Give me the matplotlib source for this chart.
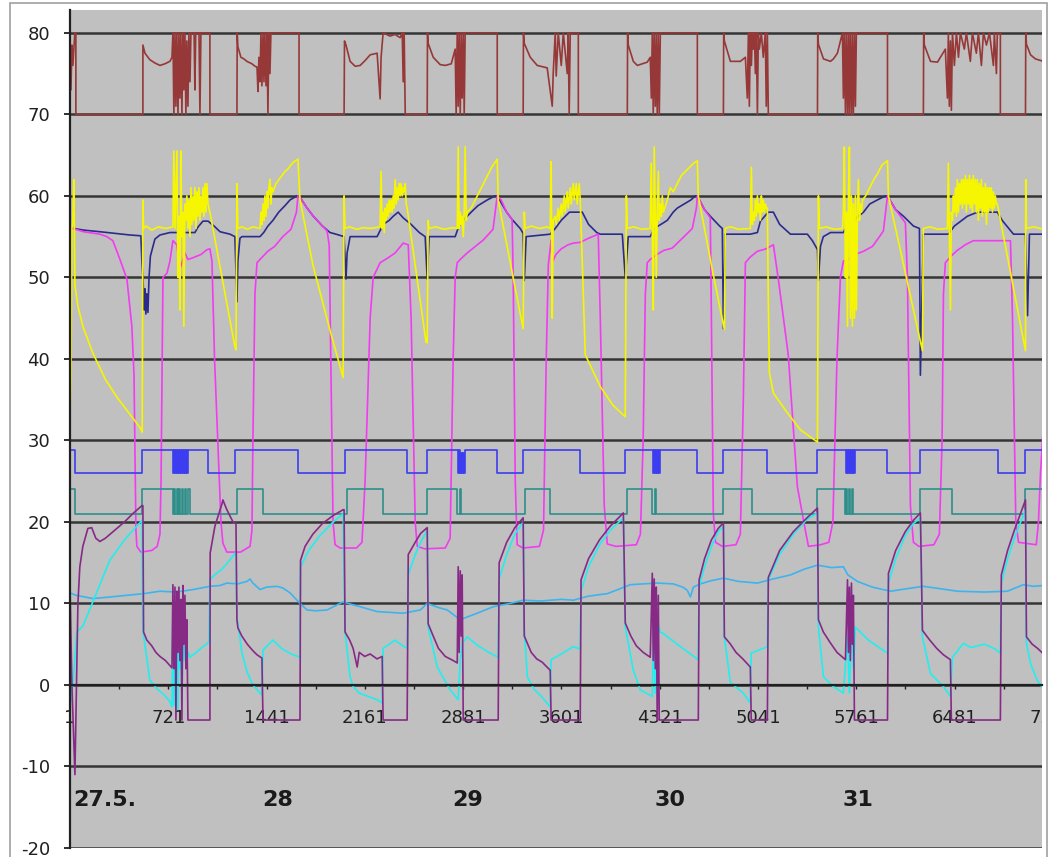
import numpy as np
import matplotlib.pyplot as plt
from matplotlib.patches import Rectangle

plt.rcParams['axes.unicode_minus'] = False

# x = sample number (one sample per minute), y = temperature
red_pts = [
    (1, 78), (8, 73), (15, 78.5), (22, 76), (29, 78), (37, 80), (44, 80), (44, 70),
    (535, 70), (535, 78.5), (550, 77.5), (586, 76.7), (623, 76.3), (660, 76.0), (696, 76.2), (733, 76.5), (748, 77),
    (755, 80), (762, 70), (770, 80), (777, 71), (784, 80), (792, 70), (799, 80), (806, 72), (813, 80), (821, 70),
    (828, 80), (835, 73), (843, 80), (850, 70), (857, 79), (865, 71), (872, 80), (880, 74), (887, 80),
    (910, 80), (916, 73), (922, 80), (946, 80), (953, 70), (960, 80), (1026, 80), (1026, 70),
    (1224, 70), (1226, 80), (1231, 78.3), (1253, 77), (1275, 76.8), (1297, 76.5), (1334, 76.2), (1356, 75.9), (1371, 75.8),
    (1378, 72.8), (1385, 77), (1393, 74), (1400, 80), (1407, 73.5), (1415, 80), (1422, 74), (1429, 80), (1437, 73.5),
    (1444, 80), (1451, 70), (1458, 80), (1466, 75), (1473, 80), (1679, 80), (1679, 70),
    (2009, 70), (2012, 79), (2023, 78.5), (2053, 76.5), (2090, 75.9), (2127, 76.0), (2163, 76.6), (2200, 77.3),
    (2251, 77.5), (2273, 71.9), (2280, 77), (2295, 80), (2346, 79.6), (2383, 79.8), (2420, 79.4), (2435, 80),
    (2442, 74), (2449, 80), (2457, 70),
    (2618, 70), (2620, 80), (2625, 78.7), (2662, 77), (2713, 76.1), (2750, 76.0), (2794, 76.2), (2823, 78),
    (2830, 70), (2838, 80), (2845, 71), (2852, 80), (2860, 70), (2867, 80), (2874, 72), (2882, 80), (2889, 70),
    (2896, 80), (3131, 80), (3131, 70),
    (3321, 70), (3323, 80), (3329, 78.7), (3373, 77), (3424, 76.0), (3497, 75.7), (3534, 71), (3541, 75), (3556, 80),
    (3563, 74.7), (3578, 80), (3600, 76), (3615, 80), (3644, 75), (3651, 80), (3658, 70), (3666, 80), (3725, 80), (3725, 70),
    (4084, 70), (4086, 80), (4091, 78.5), (4128, 76.5), (4157, 76), (4230, 76.4), (4252, 77),
    (4260, 72), (4267, 80), (4274, 70), (4281, 80), (4289, 71), (4296, 80), (4303, 70), (4311, 80), (4318, 70),
    (4326, 80), (4597, 80), (4597, 70),
    (4788, 70), (4790, 80), (4795, 79), (4839, 76.5), (4912, 76.5), (4949, 77),
    (4963, 72), (4971, 80), (4978, 71), (4985, 80), (4993, 76), (5000, 80), (5007, 78), (5015, 80), (5022, 75),
    (5029, 80), (5037, 70), (5044, 80), (5051, 78), (5066, 80), (5080, 77), (5095, 80), (5102, 71), (5110, 80), (5117, 70),
    (5477, 70), (5479, 80), (5484, 78.6), (5521, 76.8), (5572, 76.5), (5594, 76.8), (5623, 77.5), (5645, 79),
    (5660, 80), (5667, 72), (5674, 80), (5682, 70), (5689, 80), (5697, 70), (5704, 80), (5711, 70), (5718, 80),
    (5726, 70), (5733, 80), (5740, 70), (5748, 80), (5755, 71), (5762, 80), (5990, 80), (5990, 70),
    (6253, 70), (6255, 80), (6260, 78.5), (6305, 76.5), (6356, 76.4), (6378, 77), (6414, 78),
    (6429, 72), (6436, 80), (6443, 71), (6451, 79), (6458, 70.5), (6466, 80), (6480, 76), (6495, 80), (6510, 77),
    (6524, 80), (6553, 78), (6568, 80), (6597, 76.5), (6612, 80), (6641, 77.5), (6656, 80), (6678, 76), (6693, 80),
    (6715, 78.5), (6737, 80), (6766, 76), (6773, 80), (6788, 75), (6795, 80), (6817, 80), (6817, 70),
    (7001, 70), (7003, 80), (7008, 78.6), (7038, 77.3), (7074, 76.8), (7133, 76.5),
]

yellow_pts = [
    (1, 33), (8, 38), (15, 56), (22, 57), (29, 62), (33, 56), (37, 49), (59, 46.5), (95, 44), (169, 40.7),
    (260, 37.5), (345, 35.3), (440, 33.2), (513, 31.6), (530, 31),
    (535, 59.5), (540, 56), (560, 56.3), (600, 55.8), (650, 56.2), (700, 56), (755, 56.2),
    (762, 65.5), (770, 56), (784, 65.5), (792, 50), (799, 57.5), (806, 46), (813, 65.5), (821, 55), (828, 58),
    (835, 44), (843, 59), (850, 57), (857, 60), (865, 56), (872, 59.5), (880, 55), (887, 61), (894, 56.5),
    (902, 60), (909, 57), (916, 61), (924, 56), (931, 60.5), (938, 57.5), (946, 61), (953, 57), (960, 60),
    (968, 58), (975, 61), (982, 57.5), (990, 61.5), (997, 58), (1004, 61.5), (1012, 59),
    (1026, 58), (1209, 41.5), (1217, 41.1),
    (1224, 61.5), (1231, 56), (1260, 56.2), (1300, 55.9), (1341, 56.2), (1393, 56),
    (1400, 58), (1407, 56.5), (1415, 59), (1422, 57), (1429, 60), (1437, 57.5), (1444, 60.5), (1451, 58.5),
    (1458, 61), (1466, 62), (1473, 59), (1480, 61), (1488, 60.5),
    (1510, 61.5), (1532, 62), (1554, 62.5), (1576, 63), (1598, 63.3), (1620, 63.8), (1642, 64.2), (1671, 64.5),
    (1686, 59.5), (1781, 51.5), (1906, 43.5), (2002, 37.7),
    (2009, 60), (2016, 56), (2050, 56.2), (2100, 55.9), (2150, 56.1), (2200, 56), (2273, 56.2),
    (2280, 63), (2288, 56), (2295, 58), (2303, 55.5), (2310, 58.5), (2317, 57), (2325, 59), (2332, 57.5),
    (2339, 59.5), (2346, 58), (2354, 59.5), (2361, 58), (2369, 60), (2376, 58.5), (2383, 62), (2391, 59),
    (2398, 61), (2405, 59.5), (2413, 61.5), (2420, 60), (2427, 61.5), (2435, 60), (2442, 61), (2449, 60.5),
    (2457, 61.5), (2464, 59), (2471, 58.5), (2610, 42), (2618, 42),
    (2625, 57), (2632, 56), (2680, 56.2), (2740, 55.9), (2808, 56.1), (2838, 56),
    (2845, 66), (2852, 56), (2860, 58), (2867, 56.5), (2874, 57.5), (2882, 55), (2889, 58), (2896, 66),
    (2904, 57), (2911, 58),
    (2940, 58.5), (2970, 59.5), (3000, 60.5), (3030, 61.5), (3060, 62.5), (3090, 63.5), (3131, 64.5),
    (3138, 59.5), (3230, 51.5), (3321, 43.7),
    (3329, 58), (3336, 56), (3380, 56.3), (3440, 56), (3497, 56.2), (3519, 56),
    (3526, 64.2), (3534, 45), (3541, 57), (3556, 57.5), (3563, 56.5), (3578, 58.5), (3585, 57), (3600, 59),
    (3607, 57.5), (3622, 60), (3629, 58), (3644, 60.5), (3651, 58.5), (3666, 61), (3673, 59), (3688, 61.5),
    (3695, 59.5), (3710, 61.5), (3717, 59), (3732, 61.5),
    (3739, 59.5), (3776, 40.5), (3886, 36.6), (3980, 34.3), (4069, 32.9),
    (4077, 60), (4084, 56), (4130, 56.2), (4190, 55.9), (4252, 56),
    (4259, 64), (4267, 56), (4274, 46), (4281, 66), (4289, 57), (4296, 50), (4303, 58), (4311, 63), (4318, 57),
    (4326, 59), (4333, 57.5), (4340, 60), (4348, 58),
    (4377, 59.5), (4399, 61), (4421, 60.5), (4450, 61.5), (4480, 62.5), (4510, 63), (4540, 63.5), (4570, 64),
    (4597, 64.3), (4604, 60), (4700, 51.5), (4795, 43.6),
    (4802, 56), (4840, 56.2), (4900, 55.9), (4985, 56),
    (4993, 63.5), (5000, 56.5), (5007, 58), (5015, 57), (5022, 59.5), (5029, 57.5), (5037, 60), (5044, 58),
    (5051, 59), (5059, 57), (5066, 60), (5073, 58), (5080, 59.5), (5088, 58), (5095, 59), (5103, 58.5),
    (5110, 58.5), (5117, 47), (5125, 38.3), (5154, 35.8), (5256, 33.4), (5352, 31.3), (5477, 29.8),
    (5484, 60), (5491, 56), (5540, 56.2), (5600, 55.9), (5660, 56),
    (5667, 58), (5674, 66), (5682, 50), (5689, 58), (5697, 44), (5704, 60), (5711, 66), (5718, 45), (5726, 60),
    (5733, 44), (5740, 59), (5748, 45), (5755, 60), (5762, 46), (5770, 58), (5777, 62), (5785, 57), (5792, 59),
    (5800, 58), (5807, 59.5),
    (5830, 60), (5860, 61), (5890, 62), (5920, 62.8), (5950, 63.8), (5990, 64.3), (5997, 60), (6246, 41),
    (6253, 56), (6300, 56.2), (6360, 55.9), (6429, 56),
    (6436, 64), (6443, 56), (6451, 46), (6458, 58), (6466, 57), (6473, 60), (6480, 58), (6488, 61), (6495, 57.5),
    (6502, 62), (6510, 58), (6517, 61.5), (6524, 59), (6532, 62), (6539, 58.5), (6546, 62), (6553, 59),
    (6561, 62.5), (6568, 58), (6575, 62), (6583, 59), (6590, 62.5), (6597, 58.5), (6605, 62), (6612, 58),
    (6619, 62.5), (6627, 59), (6634, 62), (6641, 58), (6649, 62), (6656, 57), (6663, 61.5), (6671, 58.5),
    (6678, 62), (6685, 57.5), (6693, 61), (6700, 58), (6707, 61.5), (6715, 56.5), (6722, 61), (6729, 58),
    (6737, 61), (6744, 58.5), (6751, 61), (6759, 58), (6766, 60.5), (6773, 58.5), (6780, 60), (6788, 59),
    (6795, 59), (7001, 41),
    (7003, 62), (7008, 56), (7060, 56.2), (7133, 55.9),
]

navy_pts = [
    (1, 56), (30, 56), (100, 55.8), (220, 55.6), (330, 55.4), (440, 55.2), (520, 55.1), (528, 51.8), (535, 50),
    (545, 46), (550, 48.6), (557, 45.5), (564, 48), (572, 45.7), (580, 50), (590, 52.6), (623, 54.7), (660, 55.2),
    (733, 55.5), (916, 55.5), (940, 56.2), (975, 56.9), (1012, 56.9), (1063, 56.2), (1100, 55.6), (1173, 55.3),
    (1209, 55), (1224, 47), (1231, 52), (1246, 54.8), (1261, 55), (1393, 55), (1420, 55.5), (1451, 56.3),
    (1488, 57), (1530, 58), (1576, 58.8), (1613, 59.5), (1664, 60), (1679, 60), (1738, 58.5), (1784, 57.5),
    (1850, 56.3), (1906, 55.5), (1950, 55.3), (2009, 55), (2023, 49.8), (2031, 53), (2053, 55), (2251, 55),
    (2295, 56.5), (2340, 57), (2369, 57.5), (2405, 58), (2442, 57.3), (2500, 56.5), (2560, 55.5), (2603, 55),
    (2618, 49.8), (2632, 55), (2823, 55), (2850, 56.3), (2882, 57), (2940, 58), (2990, 58.8), (3058, 59.5),
    (3116, 60), (3131, 60), (3200, 58), (3240, 57.1), (3299, 56), (3321, 55.4), (3329, 49.6), (3343, 55),
    (3519, 55.3), (3556, 56), (3600, 57), (3660, 58), (3754, 58), (3800, 56.5), (3860, 55.5), (3886, 55.3),
    (4047, 55.3), (4069, 50), (4091, 55), (4252, 55), (4280, 56), (4330, 56.5), (4377, 57), (4420, 58),
    (4450, 58.5), (4500, 59), (4550, 59.5), (4582, 60), (4597, 60), (4650, 58.3), (4692, 57.5), (4760, 56.3),
    (4780, 56), (4788, 43.7), (4802, 55.3), (4985, 55.3), (5037, 55.5), (5059, 56.9), (5117, 58), (5154, 58),
    (5200, 56.5), (5279, 55.3), (5403, 55.3), (5440, 54.5), (5477, 53.4), (5484, 49.6), (5499, 53.8),
    (5520, 55), (5572, 55.5), (5667, 55.5), (5700, 56.5), (5740, 57), (5814, 58), (5860, 59), (5916, 59.5),
    (5975, 60), (5990, 60), (6050, 58.3), (6107, 57.5), (6180, 56.3), (6224, 56), (6231, 38), (6253, 55.3),
    (6436, 55.3), (6480, 56.3), (6575, 57.5), (6649, 58), (6795, 58), (6830, 57), (6913, 55.3), (7001, 55.3),
    (7016, 45.3), (7030, 55.3), (7133, 55.3),
]

magenta_pts = [
    (1, 38), (4, 50), (8, 56), (22, 56), (100, 55.6), (220, 55.3), (271, 55), (315, 54.5), (367, 52.2),
    (418, 49.8), (454, 44), (470, 38), (480, 25), (484, 19), (491, 17), (520, 16.3), (600, 16.5), (640, 17),
    (660, 18.5), (668, 25), (682, 50), (711, 50.5), (733, 52), (755, 54.5), (784, 54), (806, 51), (843, 53),
    (865, 52.2), (900, 52.4), (960, 52.8), (1004, 53.4), (1026, 53.5),
    (1041, 52), (1060, 40), (1107, 20), (1121, 17.4), (1150, 16.3), (1250, 16.3), (1320, 17), (1334, 19),
    (1341, 30), (1356, 48), (1371, 51.8), (1393, 52.2), (1450, 53.2), (1500, 53.8), (1560, 55), (1620, 55.9),
    (1660, 58), (1671, 60), (1686, 59.8), (1738, 58.5), (1784, 57.5), (1850, 56.3), (1884, 55.7), (1900, 54),
    (1928, 20), (1943, 17.2), (1980, 16.8), (2100, 16.8), (2140, 17.5), (2163, 25), (2200, 45), (2222, 50),
    (2273, 51.8), (2340, 52.5), (2383, 53), (2442, 54.2), (2479, 54), (2500, 45), (2530, 20), (2545, 17),
    (2600, 16.7), (2750, 16.8), (2786, 18), (2808, 40), (2823, 50), (2838, 51.8), (2860, 52.2), (2911, 53),
    (2970, 53.8), (3030, 54.6), (3100, 55.9), (3116, 58), (3131, 60), (3160, 59.5), (3200, 58), (3240, 57.1),
    (3248, 50), (3263, 25), (3277, 17.2), (3320, 16.8), (3440, 17), (3470, 19), (3490, 40), (3505, 51.5),
    (3526, 54.6), (3534, 51.8), (3560, 52.8), (3600, 53.5), (3650, 54), (3688, 54.2), (3739, 54.3),
    (3800, 54.8), (3871, 55.3), (3886, 45), (3915, 22), (3937, 17.3), (4000, 17), (4150, 17.2), (4180, 18.5),
    (4200, 30), (4216, 48), (4230, 51.8), (4252, 52.2), (4300, 52.8), (4350, 53.3), (4414, 53.6), (4450, 54.2),
    (4500, 55), (4560, 56), (4590, 58.5), (4597, 60), (4650, 58.3), (4692, 57.3), (4700, 45), (4714, 21),
    (4730, 17.5), (4780, 17), (4880, 17.2), (4912, 18.5), (4934, 35), (4949, 51.8), (4985, 52.5), (5037, 53.2),
    (5100, 53.5), (5154, 54), (5191, 49.7), (5263, 40.5), (5330, 24.3), (5388, 19), (5411, 17), (5500, 17.2),
    (5560, 17.5), (5590, 20), (5620, 40), (5645, 50), (5667, 52), (5700, 52.2), (5750, 52.8), (5814, 53.2),
    (5880, 53.8), (5940, 55.2), (5960, 55.7), (5990, 60), (6050, 58.3), (6121, 56.7), (6136, 50), (6158, 22),
    (6180, 17.5), (6220, 17), (6330, 17.2), (6370, 18.5), (6390, 30), (6400, 48), (6414, 51.8), (6450, 52.5),
    (6500, 53.3), (6560, 54), (6619, 54.5), (6795, 54.5), (6891, 54.5), (6906, 45), (6930, 20), (6950, 17.5),
    (7080, 17.2), (7096, 20), (7111, 26), (7133, 32),
]

# on/off signals: sample where the level changes, new level
blue_steps = [
    (1, 28.8), (37, 26.0), (528, 28.8), (755, 26.0), (762, 28.8), (770, 26.0), (777, 28.8), (784, 26.0),
    (792, 28.8), (799, 26.0), (806, 28.8), (813, 26.0), (821, 28.8), (828, 26.0), (835, 28.8), (843, 26.0),
    (850, 28.8), (857, 26.0), (865, 28.8), (1012, 26.0), (1209, 28.8), (1671, 26.0), (2016, 28.8),
    (2471, 26.0), (2618, 28.8), (2845, 26.0), (2852, 28.8), (2860, 26.0), (2867, 28.5), (2874, 26.0),
    (2882, 28.5), (2889, 26.0), (2896, 28.8), (3131, 26.0), (3321, 28.8), (3739, 26.0), (4069, 28.8),
    (4274, 26.0), (4281, 28.8), (4289, 26.0), (4296, 28.8), (4303, 26.0), (4311, 28.8), (4318, 26.0),
    (4326, 28.8), (4597, 26.0), (4788, 28.8), (5110, 26.0), (5477, 28.8), (5689, 26.0), (5697, 28.8),
    (5704, 26.0), (5711, 28.8), (5718, 26.0), (5726, 28.8), (5733, 26.0), (5740, 28.8), (5748, 26.0),
    (5755, 28.8), (5990, 26.0), (6231, 28.8), (6803, 26.0), (7001, 28.8), (7133, 28.8),
]

teal_steps = [
    (1, 24.0), (37, 21.0), (528, 24.0), (755, 21.0), (762, 24.0), (770, 21.0), (784, 24.0), (792, 21.0),
    (799, 24.0), (806, 21.0), (821, 24.0), (828, 21.0), (843, 24.0), (850, 21.0), (865, 24.0), (880, 21.0),
    (1224, 24.0), (1415, 21.0), (2031, 24.0), (2295, 21.0), (2618, 24.0), (2838, 21.0), (2860, 24.0),
    (2867, 21.0), (3336, 24.0), (3519, 21.0), (4084, 24.0), (4267, 21.0), (4289, 24.0), (4296, 21.0),
    (4788, 24.0), (5000, 21.0), (5477, 24.0), (5682, 21.0), (5689, 24.0), (5697, 21.0), (5711, 24.0),
    (5718, 21.0), (5733, 24.0), (5740, 21.0), (6231, 24.0), (6466, 21.0), (7001, 24.0), (7133, 24.0),
]

purple_pts = [
    (1, 12), (15, 0), (37, -11), (51, 2), (59, 10), (73, 14.5), (95, 17), (132, 19.2), (160, 19.3), (190, 18),
    (220, 17.6), (260, 18), (330, 19), (400, 20), (460, 21), (528, 22),
    (535, 22), (540, 6.5), (564, 5.5), (600, 4.8), (630, 4), (660, 3.5), (700, 3), (748, 2.1),
    (755, 12.3), (762, 2), (770, 12), (777, -4.3), (784, 11.5), (792, 4), (799, 12), (806, 3), (813, 10.5),
    (821, -4.3), (828, 12.2), (835, 5), (843, 11), (850, 2), (857, 8), (865, -4.3),
    (1026, -4.3), (1028, 16.2), (1063, 19.5), (1114, 22.2), (1121, 22.7), (1150, 21.5), (1195, 20), (1217, 19.8),
    (1224, 8), (1231, 7), (1260, 6), (1300, 5), (1341, 4.2), (1371, 3.7), (1407, 3.3), (1415, -4.3),
    (1686, -4.3), (1690, 15.3), (1723, 17), (1780, 18.5), (1850, 19.8), (1930, 20.8), (2002, 21.5),
    (2009, 21.5), (2016, 6.5), (2050, 5.5), (2075, 4.5), (2105, 2.2), (2120, 4), (2160, 3.5), (2200, 3.8),
    (2250, 3.2), (2288, 3.5), (2295, -4.3),
    (2471, -4.3), (2479, 16), (2530, 17.5), (2570, 18.6), (2618, 19.3),
    (2625, 7.5), (2662, 6), (2700, 4.5), (2750, 3.5), (2808, 3), (2838, 2.7), (2845, 14.5), (2852, 4),
    (2860, 14), (2867, 6), (2874, 13.5), (2882, -4.3),
    (3138, -4.3), (3145, 15), (3200, 17.5), (3260, 19.3), (3321, 20.5),
    (3329, 6), (3380, 4), (3420, 3.2), (3460, 2.8), (3519, 1.8), (3526, -4.3),
    (3739, -4.3), (3745, 12.9), (3800, 15.5), (3880, 17.8), (3960, 19.5), (4055, 21.1),
    (4069, 7.6), (4110, 6), (4150, 4.8), (4200, 4), (4252, 3.4), (4267, 13.7), (4274, 3), (4281, 13),
    (4289, 2), (4296, 12), (4303, -4.3), (4311, 11), (4318, -4.3),
    (4604, -4.3), (4610, 12.9), (4650, 15.5), (4700, 17.8), (4750, 19.2), (4788, 19.9),
    (4795, 5.9), (4840, 5), (4880, 4), (4930, 3.2), (4985, 2.2), (4992, -4.3),
    (5110, -4.3), (5117, 13.2), (5200, 16.5), (5300, 18.8), (5400, 20.5), (5477, 21.7),
    (5484, 8), (5520, 6.5), (5570, 5.2), (5620, 4), (5682, 3.1), (5697, 12.9), (5704, 4), (5711, 12),
    (5718, 3), (5726, 12.5), (5733, 5), (5740, 11), (5748, -4.3),
    (5990, -4.3), (5997, 13.7), (6050, 16.5), (6120, 18.8), (6180, 20.2), (6231, 21.1),
    (6246, 6.7), (6300, 5.5), (6350, 4.5), (6400, 3.7), (6451, 3.1), (6458, -4.3),
    (6817, -4.3), (6824, 13.5), (6870, 16.5), (6920, 19), (6970, 21.3), (7001, 22.7),
    (7008, 5.9), (7050, 5), (7089, 4.5), (7133, 3.8),
]

cyan_pts = [
    (1, 5), (8, -2), (22, 0), (51, 6.5), (95, 7.2), (200, 11.5), (293, 15.3), (400, 17.8), (513, 19.9), (528, 20.2),
    (535, 6.7), (586, 0.6), (640, -0.5), (690, -1.2), (733, -2), (748, -2.7),
    (755, 7.6), (762, -2.5), (770, 7), (777, 0), (784, 8), (792, -3), (799, 9), (806, 2), (813, 7.6), (821, -2),
    (828, 6), (835, 3), (843, 7), (850, 2.5), (865, 4), (880, 3.4), (920, 3.9), (960, 4.5), (1000, 5), (1019, 5.3),
    (1026, 12.9), (1060, 13.5), (1120, 14.3), (1180, 15.5), (1217, 16.3),
    (1224, 8), (1231, 7.6), (1260, 4), (1300, 1.5), (1341, 0), (1393, -1), (1407, -1.2),
    (1415, 4.3), (1488, 5.5), (1550, 4.5), (1620, 3.8), (1686, 3.4),
    (1690, 14.5), (1750, 16.5), (1830, 18.3), (1930, 20), (2002, 21),
    (2016, 6.5), (2053, 1), (2075, -0.2), (2120, -1), (2200, -1.5), (2250, -1.8), (2288, -2.2),
    (2295, 4.5), (2340, 5), (2380, 5.5), (2440, 4.8), (2471, 4.5),
    (2479, 13.5), (2530, 16), (2570, 17.5), (2618, 19),
    (2625, 7.1), (2691, 2.2), (2786, -0.6), (2845, -1.8), (2860, 3), (2874, 5.1), (2911, 5.9), (2990, 4.8),
    (3070, 4), (3138, 3.4),
    (3145, 13), (3200, 16), (3260, 18.5), (3321, 20),
    (3329, 7), (3351, 1), (3400, -0.5), (3460, -1.5), (3519, -2.7),
    (3526, 3.1), (3600, 3.8), (3688, 4.7), (3739, 4.4),
    (3745, 11.5), (3800, 14.5), (3880, 17.2), (3960, 19), (4055, 20.5),
    (4069, 7.1), (4128, 1.8), (4179, -0.6), (4267, -1.4), (4274, 6), (4289, -1), (4303, 8), (4326, 6.4),
    (4340, 6.4), (4450, 5), (4546, 3.8), (4604, 3.1),
    (4610, 12), (4650, 14.5), (4700, 17), (4750, 18.8), (4788, 19.5),
    (4795, 5.9), (4839, 0.3), (4934, -1), (4985, -2.2),
    (4992, 3.9), (5050, 4.3), (5110, 4.7),
    (5117, 12.9), (5200, 16), (5300, 18.5), (5400, 20.3), (5477, 21.1),
    (5484, 7.1), (5521, 1.0), (5594, -0.2), (5667, -1), (5697, 6), (5711, -1), (5726, 7.5), (5740, 2),
    (5755, 7.1), (5850, 5.5), (5938, 4.5), (5990, 3.9),
    (5997, 12.5), (6050, 15.5), (6120, 18.3), (6180, 19.8), (6231, 20.5),
    (6246, 5.9), (6305, 1.4), (6400, -0.2), (6451, -1.4),
    (6466, 3.4), (6546, 5.1), (6600, 4.6), (6700, 5), (6780, 4.4), (6817, 3.9),
    (6824, 12.5), (6870, 15.5), (6930, 18.5), (6990, 21), (7001, 21.5),
    (7008, 5.1), (7040, 2.5), (7089, 0.5), (7133, -0.5),
]

lightblue_pts = [
    (1, 11.3), (44, 11.0), (169, 10.6), (300, 10.8), (418, 11.0), (540, 11.2), (660, 11.5), (780, 11.4),
    (902, 11.7), (1026, 12.1), (1100, 12.2), (1151, 12.5), (1230, 12.4), (1297, 12.7), (1320, 13.0),
    (1341, 12.5), (1393, 11.7), (1440, 12.0), (1517, 12.1), (1560, 11.9), (1613, 11.3), (1686, 10.0),
    (1738, 9.2), (1800, 9.1), (1884, 9.2), (2002, 10.2), (2060, 9.9), (2127, 9.6), (2251, 9.0), (2350, 8.9),
    (2442, 8.8), (2567, 9.2), (2618, 10.0), (2700, 9.5), (2765, 9.2), (2860, 8.0), (2920, 8.4), (2984, 8.8),
    (3102, 9.6), (3226, 10.0), (3321, 10.4), (3450, 10.3), (3600, 10.5), (3688, 10.4), (3800, 10.9),
    (3937, 11.2), (4030, 11.8), (4106, 12.3), (4200, 12.4), (4303, 12.5), (4421, 12.4), (4490, 12.0),
    (4524, 11.6), (4546, 10.8), (4568, 12.0), (4619, 12.4), (4700, 12.8), (4788, 13.1), (4900, 12.7),
    (5037, 12.5), (5150, 13.0), (5279, 13.5), (5380, 14.2), (5477, 14.7), (5580, 14.4), (5667, 14.5),
    (5700, 13.5), (5770, 12.7), (5880, 12.0), (6011, 11.5), (6130, 11.8), (6253, 12.1), (6380, 11.8),
    (6502, 11.5), (6700, 11.4), (6869, 11.5), (6986, 12.3), (7060, 12.1), (7133, 12.2),
]

xtick_pos = list(range(1, 7122, 360))
xtick_lbl = [str(v) if i % 2 == 0 else '' for i, v in enumerate(xtick_pos)]
ytick_pos = list(range(-20, 81, 10))
day_labels = ['27.5.', '28', '29', '30', '31']
day_pos = [22, 1525, 2911, 4399, 5777]


def xy(pts):
    a = np.array(pts, dtype=float)
    return a[:, 0], a[:, 1]


fig = plt.figure(figsize=(10.53, 8.57), dpi=100)
ax = fig.add_axes([70 / 1053, 1 - 848 / 857, 972 / 1053, 838 / 857])
ax.set_facecolor('#C0C0C0')

lw = 1.2
ax.plot(*xy(red_pts), color='#963838', lw=lw)
ax.plot(*xy(navy_pts), color='#2B2B8C', lw=lw)
ax.plot(*xy(magenta_pts), color='#F23CF2', lw=lw)
ax.plot(*xy(yellow_pts), color='#F6F600', lw=lw)
ax.plot(*xy(blue_steps), color='#3C3CF0', lw=lw, drawstyle='steps-post')
ax.plot(*xy(teal_steps), color='#2E8F8A', lw=lw, drawstyle='steps-post')
ax.plot(*xy(lightblue_pts), color='#3CB4EE', lw=lw)
ax.plot(*xy(cyan_pts), color='#22EEEE', lw=lw)
ax.plot(*xy(purple_pts), color='#862A86', lw=lw)

# axes, gridlines and ticks
ax.set_yticks(ytick_pos)
ax.set_yticklabels([str(v) for v in ytick_pos])
ax.yaxis.grid(True, color='#353535', lw=1.8)
ax.set_axisbelow(True)
ax.set_xticks(xtick_pos)
ax.set_xticklabels(xtick_lbl)
ax.set_xlim(1, 7122)
ax.set_ylim(-20, 82.8)

for s in ['top', 'right']:
    ax.spines[s].set_visible(False)
ax.spines['bottom'].set_position(('data', 0))
ax.spines['bottom'].set_color('#202020')
ax.spines['bottom'].set_linewidth(1.6)
ax.spines['left'].set_color('#202020')
ax.spines['left'].set_linewidth(1.6)

ax.tick_params(axis='y', direction='out', length=4.3, width=1.3, pad=10,
               labelsize=13, colors='#202020')
ax.tick_params(axis='x', direction='out', length=3, width=1.0, pad=14.5,
               labelsize=13, colors='#202020')

# last tick label (7201) lies past the right edge and is cut by the plot area
t = ax.text(7201, -2.9, '7201', ha='center', va='top', fontsize=13,
            color='#202020', clip_on=True)
t.set_clip_box(ax.bbox)

for lbl, xpos in zip(day_labels, day_pos):
    ax.text(xpos, -14.1, lbl, ha='left' if lbl == '27.5.' else 'center',
            va='center', fontsize=16, fontweight='bold', color='#1a1a1a')

fig.add_artist(Rectangle((9.5 / 1053, -0.01), (1047 - 9.5) / 1053, 1.01 - 2.5 / 857,
                         transform=fig.transFigure, fill=False,
                         edgecolor='#A0A0A0', lw=1.2))

fig.savefig('out.png', dpi=100)
